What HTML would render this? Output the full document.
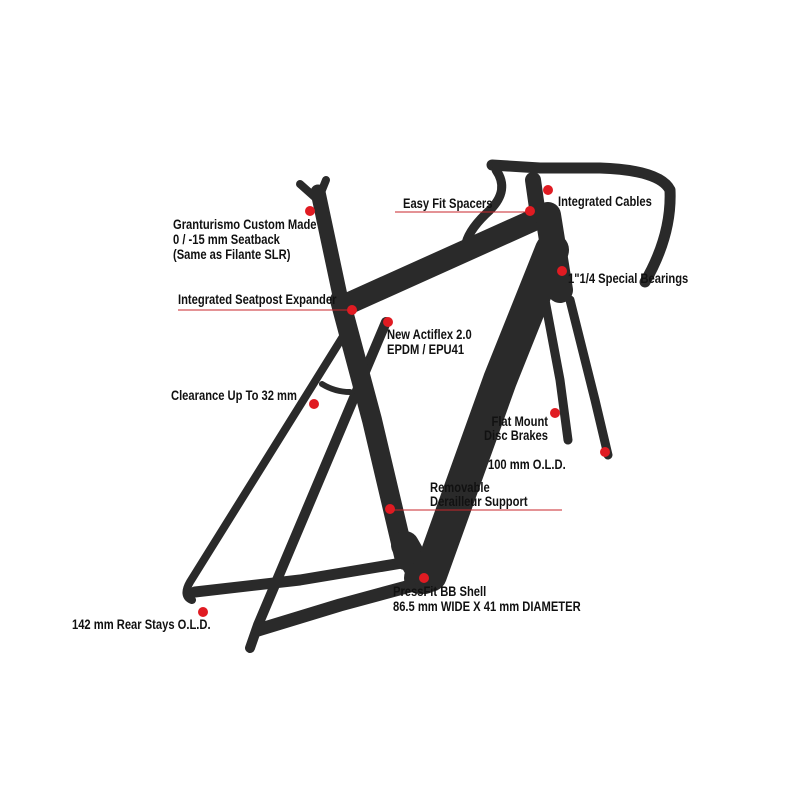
<!DOCTYPE html>
<html><head><meta charset="utf-8"><style>
html,body{margin:0;padding:0;background:#fff;}
svg{display:block}
text{font-family:"Liberation Sans",sans-serif;font-weight:bold;font-size:14px;fill:#111;}
</style></head><body>
<svg width="800" height="800" viewBox="0 0 800 800" xmlns="http://www.w3.org/2000/svg">
<rect width="800" height="800" fill="#fff"/>
<g stroke="#2a2a2a" fill="none" stroke-linecap="round" stroke-linejoin="round">
  <path d="M352 322 L190 582 Q182 596 192 600" stroke-width="8"/>
  <path d="M386 322 L258 625 L250 648" stroke-width="10"/>
  <path d="M322 384 Q335 392 350 392" stroke-width="6"/>
  <path d="M420 560 L300 580 L195 592" stroke-width="11"/>
  <path d="M425 582 L340 605 L258 630" stroke-width="13"/>
  <path d="M340 300 L372 420 L405 560" stroke-width="20"/>
  <path d="M405 545 L425 580" stroke-width="28"/>
  <path d="M318 192 L342 305" stroke-width="15"/>
  <path d="M300 184 L318 200 L326 180" stroke-width="8"/>
  <path d="M345 305 L545 215" stroke-width="22"/>
  <path d="M552 250 L500 380 L430 575" stroke-width="34"/>
  <path d="M548 215 L560 290" stroke-width="26"/>
  <path d="M545 300 L560 380 L568 440" stroke-width="9"/>
  <path d="M570 300 L595 400 L608 455" stroke-width="9"/>
  <path d="M533 180 L538 215" stroke-width="16"/>
  <path d="M492 165 L540 168 L600 168 Q660 170 670 190 Q672 235 645 282" stroke-width="11"/>
  <path d="M496 170 Q510 190 490 210 Q470 228 466 243" stroke-width="9"/>
  <circle cx="420" cy="578" r="12" stroke-width="8"/>
</g>
<g stroke="#c8262b" stroke-width="1" fill="none">
  <line x1="395" y1="212" x2="528" y2="212"/>
  <line x1="178" y1="310" x2="352" y2="310"/>
  <line x1="392" y1="510" x2="562" y2="510"/>
</g>
<g fill="#e01b22">
  <circle cx="310" cy="211" r="5"/><circle cx="352" cy="310" r="5"/>
  <circle cx="388" cy="322" r="5"/><circle cx="314" cy="404" r="5"/>
  <circle cx="530" cy="211" r="5"/><circle cx="548" cy="190" r="5"/>
  <circle cx="562" cy="271" r="5"/><circle cx="555" cy="413" r="5"/>
  <circle cx="605" cy="452" r="5"/><circle cx="390" cy="509" r="5"/>
  <circle cx="424" cy="578" r="5"/><circle cx="203" cy="612" r="5"/>
</g>
<text transform="translate(173,229) scale(0.8,1)">Granturismo Custom Made</text>
<text transform="translate(173,244) scale(0.8,1)">0 / -15 mm Seatback</text>
<text transform="translate(173,259) scale(0.8,1)">(Same as Filante SLR)</text>
<text transform="translate(403,208) scale(0.8,1)">Easy Fit Spacers</text>
<text transform="translate(558,206) scale(0.8,1)">Integrated Cables</text>
<text transform="translate(568,283) scale(0.8,1)">1"1/4 Special Bearings</text>
<text transform="translate(178,304) scale(0.8,1)">Integrated Seatpost Expander</text>
<text transform="translate(387,339) scale(0.8,1)">New Actiflex 2.0</text>
<text transform="translate(387,354) scale(0.8,1)">EPDM / EPU41</text>
<text transform="translate(171,400) scale(0.8,1)">Clearance Up To 32 mm</text>
<text text-anchor="end" transform="translate(548,426) scale(0.8,1)">Flat Mount</text>
<text text-anchor="end" transform="translate(548,440) scale(0.8,1)">Disc Brakes</text>
<text transform="translate(488,469) scale(0.8,1)">100 mm O.L.D.</text>
<text transform="translate(430,492) scale(0.8,1)">Removable</text>
<text transform="translate(430,506) scale(0.8,1)">Derailleur Support</text>
<text transform="translate(393,596) scale(0.8,1)">PressFit BB Shell</text>
<text transform="translate(393,611) scale(0.8,1)">86.5 mm WIDE X 41 mm DIAMETER</text>
<text transform="translate(72,629) scale(0.8,1)">142 mm Rear Stays O.L.D.</text>
</svg>
</body></html>
